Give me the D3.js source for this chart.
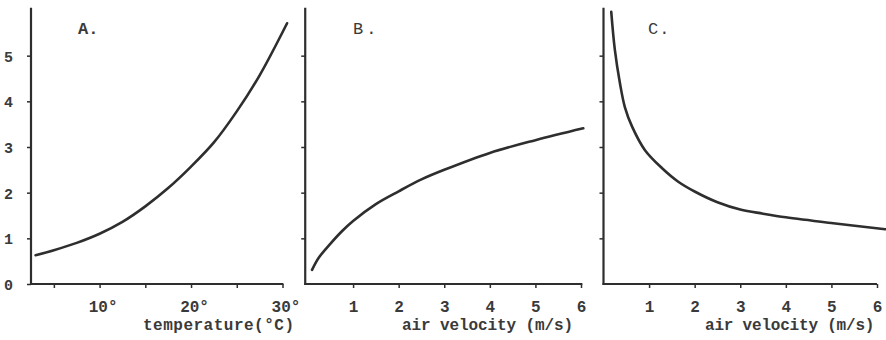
<!DOCTYPE html>
<html>
<head>
<meta charset="utf-8">
<script src="https://cdn.jsdelivr.net/npm/d3@7/dist/d3.min.js"></script>
<style>
  html, body { margin: 0; padding: 0; background: #fff; }
  svg { display: block; }
  text { font-family: "Liberation Mono", "DejaVu Sans Mono", monospace; fill: #3a3a3a; }
</style>
</head>
<body>
<svg id="chart" width="886" height="340"></svg>
<script>
// Panel A: rate vs temperature
const tempA  = [3, 5, 7.5, 10, 12.5, 15, 17.5, 20, 22.5, 25, 27.5, 30.5];
const valueA = [0.63, 0.74, 0.9, 1.1, 1.36, 1.7, 2.1, 2.57, 3.1, 3.78, 4.57, 5.71];

// Panel B: rate vs air velocity
const velB   = [0.1, 0.25, 0.5, 0.75, 1, 1.5, 2, 2.5, 3, 4, 5, 6.05];
const valueB = [0.31, 0.58, 0.88, 1.15, 1.38, 1.75, 2.03, 2.29, 2.5, 2.87, 3.15, 3.41];

// Panel C: decreasing response vs air velocity
const velC   = [0.17, 0.25, 0.36, 0.47, 0.63, 0.91, 1.28, 1.64, 2.01, 2.5, 3, 3.5, 4, 5.04, 6.18];
const valueC = [5.96, 5.12, 4.4, 3.87, 3.44, 2.93, 2.54, 2.24, 2.02, 1.79, 1.63, 1.54, 1.46, 1.33, 1.2];

const yTicks     = [0, 1, 2, 3, 4, 5];
const tempTicks  = [5, 10, 15, 20, 25, 30];
const tempLabels = [10, 20, 30];
const velTicks   = [1, 2, 3, 4, 5, 6];
const panelNames = ["A.", "B.", "C."];
const xTitles    = ["temperature(°C)", "air velocity (m/s)", "air velocity (m/s)"];

const svg = d3.select("#chart");
const ink = "#2e2e2e";

const y = d3.scaleLinear().domain([0, 6]).range([284, 10]);

const panels = [
  { xs: tempA, ys: valueA, x: d3.scaleLinear().domain([2.5, 30]).range([31, 282.5]),
    xMin: 2.5, xMax: 30.1, ticks: tempTicks,
    fmt: d => tempLabels.includes(d) ? d + "°" : "", labelDx: 3,
    yLabels: true, title: { x: 143, ls: 0.5 }, name: { x: 78, bold: true, ls: 0 } },
  { xs: velB, ys: valueB, x: d3.scaleLinear().domain([0, 6]).range([307.5, 581]),
    xMin: -0.05, xMax: 6.03, ticks: velTicks, fmt: d => String(d), labelDx: 0,
    yLabels: false, title: { x: 402, ls: -0.1 }, name: { x: 353, bold: false, ls: 3 } },
  { xs: velC, ys: valueC, x: d3.scaleLinear().domain([0, 6]).range([603.5, 877]),
    xMin: 0, xMax: 6.0, ticks: velTicks, fmt: d => String(d), labelDx: 0,
    yLabels: false, title: { x: 705, ls: -0.2 }, name: { x: 648, bold: false, ls: 1 } }
];

panels.forEach((p, i) => {
  const g = svg.append("g");
  const x0 = p.x(p.xMin);

  // axis lines
  g.append("line")
    .attr("x1", x0).attr("x2", x0)
    .attr("y1", y(0) + 1).attr("y2", y(6.05))
    .attr("stroke", ink).attr("stroke-width", 2.2);
  g.append("line")
    .attr("x1", x0 - 1).attr("x2", p.x(p.xMax))
    .attr("y1", y(0)).attr("y2", y(0))
    .attr("stroke", ink).attr("stroke-width", 2.2);

  // y axis ticks
  const yAxis = d3.axisLeft(y).tickValues(p.yLabels ? yTicks : yTicks.slice(1))
    .tickSize(4).tickFormat(d => p.yLabels ? String(d) : "");
  const ya = g.append("g").attr("transform", `translate(${x0},0)`).call(yAxis);
  ya.select(".domain").remove();
  ya.selectAll(".tick line").attr("stroke", ink).attr("stroke-width", 1.5);
  ya.selectAll(".tick text")
    .attr("font-family", "Liberation Mono, monospace").attr("font-weight", "bold")
    .attr("font-size", 15).attr("fill", "#3a3a3a").attr("x", -18).attr("dy", "0.36em");

  // x axis ticks and labels
  const xAxis = d3.axisBottom(p.x).tickValues(p.ticks).tickSize(4).tickFormat(p.fmt);
  const xa = g.append("g").attr("transform", `translate(0,${y(0)})`).call(xAxis);
  xa.select(".domain").remove();
  xa.selectAll(".tick line").attr("stroke", ink).attr("stroke-width", 1.5);
  xa.selectAll(".tick text")
    .attr("font-family", "Liberation Mono, monospace").attr("font-weight", "bold")
    .attr("font-size", 16).attr("fill", "#3a3a3a")
    .attr("y", 28).attr("dy", 0).attr("dx", p.labelDx);

  // axis title
  g.append("text")
    .attr("x", p.title.x).attr("y", 330)
    .attr("font-size", 16).attr("font-weight", "bold")
    .attr("letter-spacing", p.title.ls)
    .text(xTitles[i]);

  // panel name
  g.append("text")
    .attr("x", p.name.x).attr("y", 34)
    .attr("font-size", 17).attr("font-weight", p.name.bold ? "bold" : "normal")
    .attr("letter-spacing", p.name.ls)
    .text(panelNames[i]);

  // curve
  const pts = p.xs.map((v, k) => [v, p.ys[k]]);
  g.append("path")
    .datum(pts)
    .attr("fill", "none").attr("stroke", ink).attr("stroke-width", 2.6)
    .attr("stroke-linecap", "round")
    .attr("d", d3.line().x(d => p.x(d[0])).y(d => y(d[1])).curve(d3.curveCatmullRom.alpha(0.5)));
});
</script>
</body>
</html>
